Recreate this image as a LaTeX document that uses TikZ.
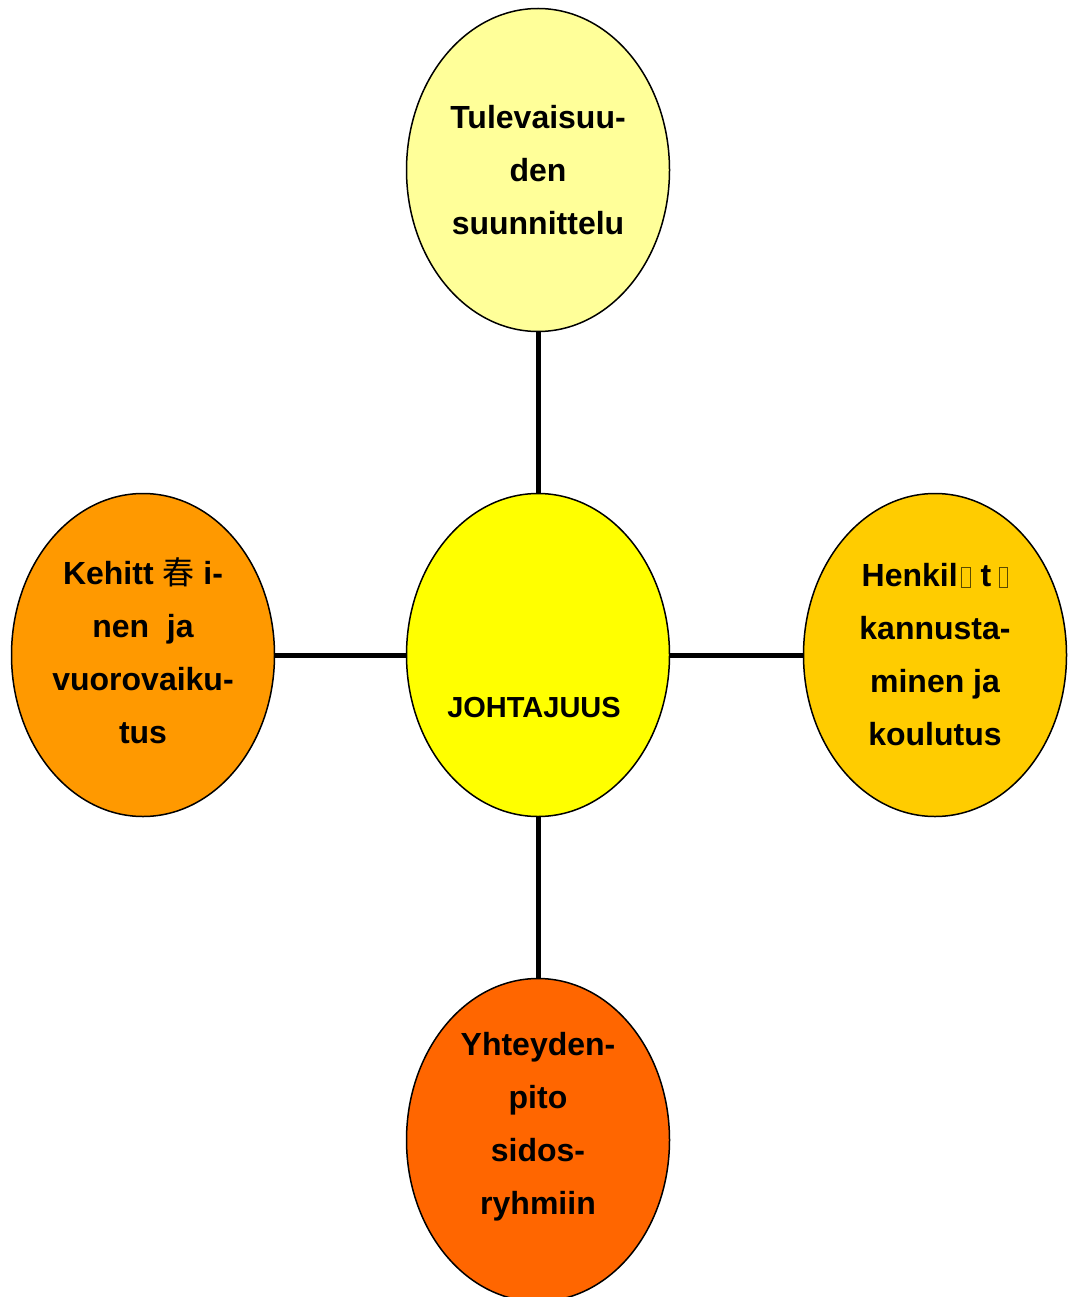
\documentclass[tikz,border=0pt]{standalone}
\usepackage{fontspec}
\setmainfont{Liberation Sans}
\newfontfamily\cjkfont{Noto Sans CJK SC}
\usetikzlibrary{shapes.geometric}
\definecolor{paleyellow}{HTML}{FFFF99}
\definecolor{brightyellow}{HTML}{FFFF00}
\definecolor{lightorange}{HTML}{FF9900}
\definecolor{gold}{HTML}{FFCC00}
\definecolor{darkorange}{HTML}{FF6600}
\definecolor{boxline}{HTML}{5A4A00}
\tikzset{
  bubble/.style={ellipse, draw=black, line width=1.5pt, minimum width=263pt, minimum height=323pt, inner sep=0pt},
  label text/.style={font=\bfseries\fontsize{32}{53}\selectfont, align=center, inner sep=0pt},
  link/.style={line width=5pt, draw=black}
}
% hollow placeholder box for a missing glyph: #1 space before, #2 space after
\newcommand{\gapbox}[2]{\hspace{#1}{\color{boxline}\fboxsep=0pt\fboxrule=1pt\fbox{\rule{0pt}{19pt}\hspace{7.5pt}}}\hspace{#2}}
\begin{document}
\begin{tikzpicture}[x=1pt, y=-1pt]
  \useasboundingbox (0,0) rectangle (1069,1297);
  \clip (0,0) rectangle (1069,1297);

  % bubbles
  \node[bubble, fill=brightyellow] (centre) at (538,655) {};
  \node[bubble, fill=paleyellow]   (future) at (538,170) {};
  \node[bubble, fill=lightorange]  (develop) at (143,655) {};
  \node[bubble, fill=gold]         (staff) at (935,655) {};
  \node[bubble, fill=darkorange]   (contact) at (538,1140) {};

  % spokes
  \draw[link] (centre) -- (future);
  \draw[link] (centre) -- (develop);
  \draw[link] (centre) -- (staff);
  \draw[link] (centre) -- (contact);

  % texts
  \node[label text, font=\bfseries\fontsize{29}{53}\selectfont] (centretext) at (534,708) {JOHTAJUUS};
  \node[label text] (futuretext) at (538,170) {Tulevaisuu-\\den\\suunnittelu};
  \node[label text] (developtext) at (143,651) {Kehitt {\cjkfont\mdseries 春} i-\\nen\ \ ja\\vuorovaiku-\\tus};
  \node[label text] (stafftext) at (935,655) {Henkil\gapbox{3.5pt}{10pt}t\gapbox{7.5pt}{7pt}\\kannusta-\\minen ja\\koulutus};
  \node[label text] (contacttext) at (538,1127) {Yhteyden-\\pito\\sidos-\\ryhmiin};
\end{tikzpicture}
\end{document}
